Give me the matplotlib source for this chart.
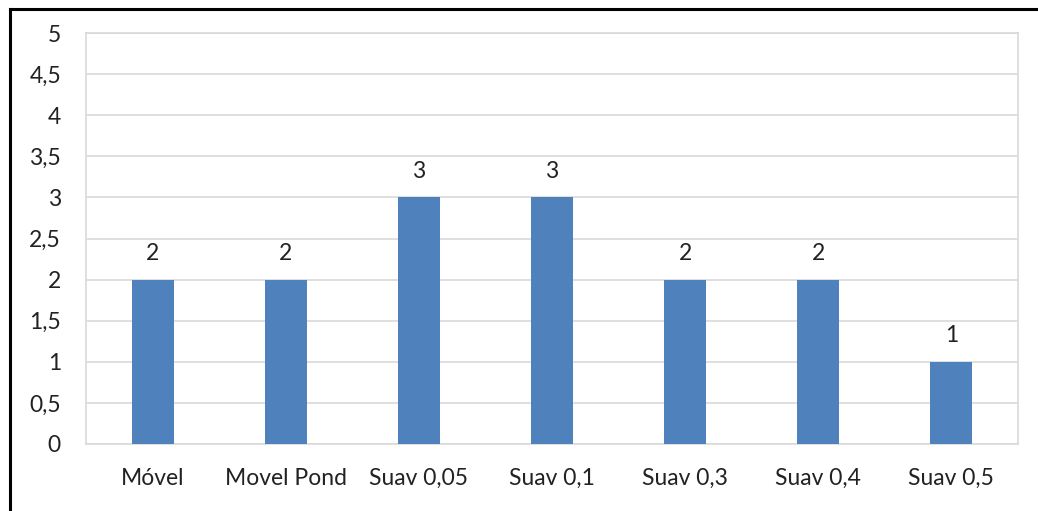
import matplotlib
matplotlib.use("Agg")
import matplotlib.pyplot as plt
from matplotlib.lines import Line2D

categories = ["Móvel", "Movel Pond", "Suav 0,05", "Suav 0,1", "Suav 0,3", "Suav 0,4", "Suav 0,5"]
values = [2, 2, 3, 3, 2, 2, 1]
yticks = [0, 0.5, 1, 1.5, 2, 2.5, 3, 3.5, 4, 4.5, 5]
ytick_labels = ["0", "0,5", "1", "1,5", "2", "2,5", "3", "3,5", "4", "4,5", "5"]

plt.rcParams["font.family"] = ["Lato", "DejaVu Sans"]

W, H = 1038, 511
fig = plt.figure(figsize=(W / 100, H / 100), dpi=100)
fig.patch.set_facecolor("white")
ax = fig.add_axes([86 / W, 1 - 444 / H, (1018 - 86) / W, (444 - 33) / H])

x = list(range(len(categories)))
ax.bar(x, values, width=0.315, color="#4F81BD", zorder=3)
for xi, v in zip(x, values):
    ax.annotate(str(v), (xi, v), xytext=(0, 19), textcoords="offset points",
                ha="center", va="center", fontsize=16.5, color="#222222")

ax.set_xlim(-0.5, len(categories) - 0.5)
ax.set_ylim(0, 5)
ax.set_yticks(yticks)
ax.set_yticklabels(ytick_labels)
ax.set_xticks(x)
ax.set_xticklabels(categories)
ax.tick_params(axis="both", length=0, labelsize=16.5, colors="#222222")
ax.tick_params(axis="y", pad=18)
ax.tick_params(axis="x", pad=17)
ax.grid(axis="y", color="#D9D9D9", linewidth=1.2, zorder=0)
for s in ax.spines.values():
    s.set_color("#D9D9D9")
    s.set_linewidth(1.2)

# outer frame lines (left and top)
fig.add_artist(Line2D([9.5 / W, 9.5 / W], [0, 1 - 9.5 / H], color="black", linewidth=2.2,
                      transform=fig.transFigure))
fig.add_artist(Line2D([9.5 / W, 1], [1 - 9.5 / H, 1 - 9.5 / H], color="black", linewidth=2.2,
                      transform=fig.transFigure))

fig.savefig("out.png", dpi=100)
